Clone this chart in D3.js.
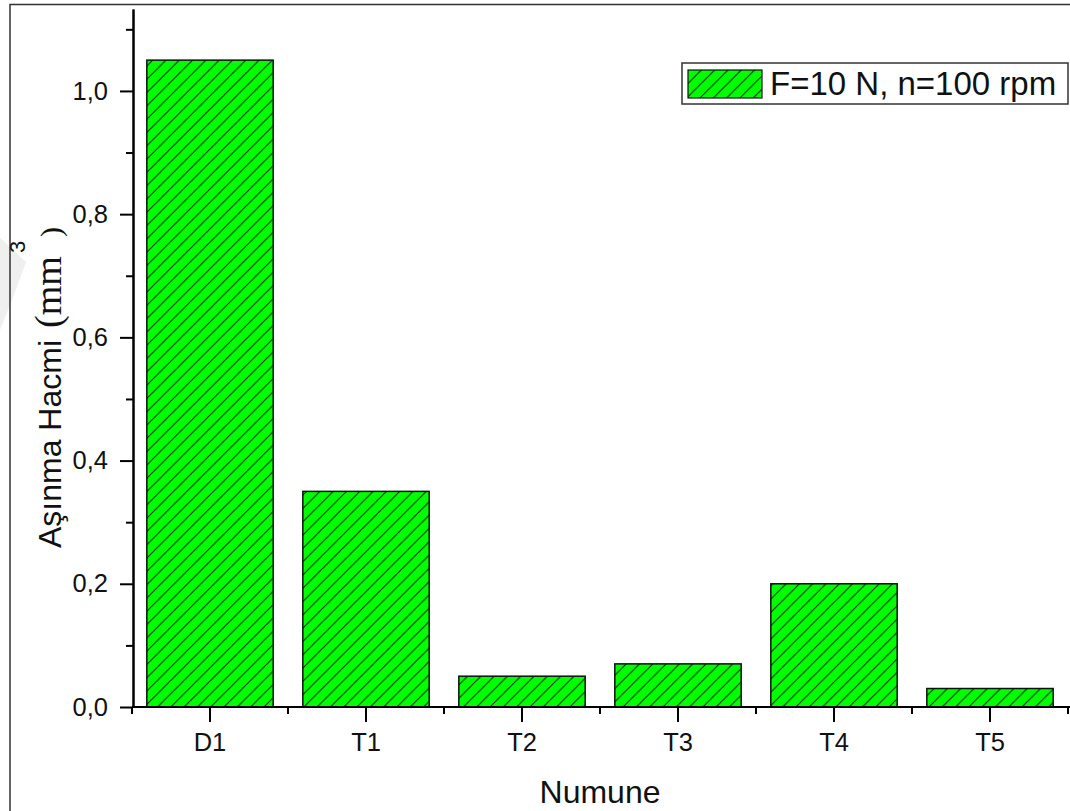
<!DOCTYPE html>
<html>
<head>
<meta charset="utf-8">
<script src="https://cdn.jsdelivr.net/npm/d3@7"></script>
<style>
  html, body { margin: 0; padding: 0; background: #fff; }
  svg { display: block; }
  text { font-family: "Liberation Sans", Arial, sans-serif; fill: #111; }
</style>
</head>
<body>
<svg id="chart" width="1070" height="811"></svg>
<script>
// Wear volume per sample
const categories = ["D1", "T1", "T2", "T3", "T4", "T5"];
const wearVolume = [1.05, 0.35, 0.05, 0.07, 0.20, 0.03];
const majorYTicks = [0, 0.2, 0.4, 0.6, 0.8, 1.0];
const minorYTicks = [0.1, 0.3, 0.5, 0.7, 0.9, 1.1];
const seriesLabel = "F=10 N, n=100 rpm";
const xTitle = "Numune";
const yTitleMain = "Aşınma Hacmi";
const yTitleUnit = "(mm";
const yTitleSup = "3";
const yTitleClose = ")";

const svg = d3.select("#chart");

// Hatched green fill
const defs = svg.append("defs");
const hs = 13.3;
const pat = defs.append("pattern")
  .attr("id", "hatch")
  .attr("patternUnits", "userSpaceOnUse")
  .attr("width", hs).attr("height", hs);
pat.append("rect").attr("width", hs).attr("height", hs).attr("fill", "#00ff00");
pat.append("path")
  .attr("d", `M0,${hs} L${hs},0 M${-hs/2},${hs/2} L${hs/2},${-hs/2} M${hs/2},${hs*1.5} L${hs*1.5},${hs/2}`)
  .attr("stroke", "#0a1a0a").attr("stroke-width", 1);

// Page frame and faint mark at left edge
svg.append("polygon")
  .attr("points", "0,238 26,262 12,300 0,330")
  .attr("fill", "#efefef");
svg.append("rect")
  .attr("x", 10).attr("y", 4.5).attr("width", 1080).attr("height", 830)
  .attr("fill", "none").attr("stroke", "#333").attr("stroke-width", 1.5);

// Scales
const x = d3.scaleBand()
  .domain(categories)
  .range([132, 1068])
  .paddingInner(0.19)
  .paddingOuter(0.095);

const y = d3.scaleLinear()
  .domain([0, 1.133])
  .range([707, 9]);

const fmt = v => d3.format(".1f")(v).replace(".", ",");

// Bars
svg.append("g").selectAll("rect")
  .data(categories.map((c, i) => ({ c, v: wearVolume[i] })))
  .join("rect")
  .attr("x", d => x(d.c))
  .attr("y", d => y(d.v))
  .attr("width", x.bandwidth())
  .attr("height", d => y(0) - y(d.v))
  .attr("fill", "url(#hatch)")
  .attr("stroke", "#111")
  .attr("stroke-width", 1.5);

// Y axis
const yAxisMinor = svg.append("g")
  .attr("transform", "translate(133,0)")
  .call(d3.axisLeft(y).tickValues(minorYTicks).tickSize(7).tickSizeOuter(0).tickFormat(""));
const yAxis = svg.append("g")
  .attr("transform", "translate(133,0)")
  .call(d3.axisLeft(y).tickValues(majorYTicks).tickSize(13).tickSizeOuter(0).tickPadding(12).tickFormat(fmt));
[yAxis, yAxisMinor].forEach(g => {
  g.selectAll("line").attr("stroke", "#000").attr("stroke-width", 2);
  g.select(".domain").attr("stroke", "#000").attr("stroke-width", 2);
});
yAxis.selectAll("text")
  .attr("font-size", 25.5)
  .attr("font-family", "Liberation Sans, Arial, sans-serif")
  .attr("fill", "#111");

// X axis
const xAxis = svg.append("g")
  .attr("transform", "translate(0,707)")
  .call(d3.axisBottom(x).tickSize(15).tickSizeOuter(0).tickPadding(11));
xAxis.select(".domain").attr("d", "M132,0H1070").attr("stroke", "#000").attr("stroke-width", 2);
xAxis.selectAll("line").attr("stroke", "#000").attr("stroke-width", 2);
xAxis.selectAll("text")
  .attr("font-size", 25.5)
  .attr("font-family", "Liberation Sans, Arial, sans-serif")
  .attr("fill", "#111");

// Minor x ticks at band boundaries
const boundaries = d3.range(categories.length + 1).map(i => x.range()[0] + i * x.step());
svg.append("g").selectAll("line")
  .data(boundaries)
  .join("line")
  .attr("x1", d => d).attr("x2", d => d)
  .attr("y1", 707).attr("y2", 714)
  .attr("stroke", "#000").attr("stroke-width", 2);

// Axis titles
svg.append("text")
  .attr("x", 600).attr("y", 803)
  .attr("text-anchor", "middle")
  .attr("font-size", 32)
  .text(xTitle);

const yt = svg.append("text")
  .attr("transform", "translate(61,548) rotate(-90)")
  .attr("font-size", 32);
yt.append("tspan").attr("x", 0).attr("y", 0).text(yTitleMain);
yt.append("tspan").attr("x", 220).attr("y", 0)
  .attr("font-family", "Liberation Serif, Times New Roman, serif")
  .attr("font-size", 38)
  .text(yTitleUnit);
yt.append("tspan").attr("x", 295).attr("y", -36)
  .attr("font-size", 22)
  .text(yTitleSup);
yt.append("tspan").attr("x", 311).attr("y", 0)
  .attr("font-family", "Liberation Serif, Times New Roman, serif")
  .attr("font-size", 30)
  .text(yTitleClose);

// Legend
const lg = svg.append("g");
lg.append("rect")
  .attr("x", 682).attr("y", 63).attr("width", 386).attr("height", 41)
  .attr("fill", "#fff").attr("stroke", "#333").attr("stroke-width", 1.5);
lg.append("rect")
  .attr("x", 688).attr("y", 70).attr("width", 74).attr("height", 28)
  .attr("fill", "url(#hatch)").attr("stroke", "#111").attr("stroke-width", 1.2);
lg.append("text")
  .attr("x", 770).attr("y", 95)
  .attr("font-size", 33)
  .text(seriesLabel);
</script>
</body>
</html>
